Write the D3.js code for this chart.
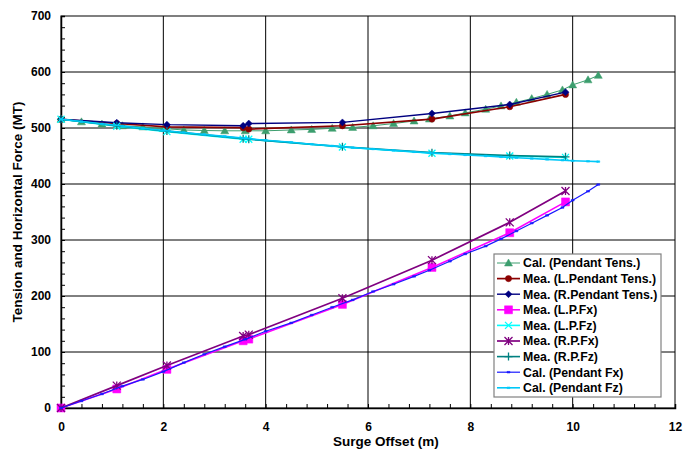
<!DOCTYPE html>
<html>
<head>
<meta charset="utf-8">
<script src="https://cdn.jsdelivr.net/npm/d3@7"></script>
<style>
  html, body { margin: 0; padding: 0; background: #fff; }
  svg text { font-family: "Liberation Sans", Arial, sans-serif; font-weight: bold; }
</style>
</head>
<body>
<svg id="chart" width="686" height="456"></svg>
<script>
// ---------------- data ----------------
const calX = [0, 0.4, 0.8, 1.2, 1.6, 2.0, 2.4, 2.8, 3.2, 3.6, 4.0, 4.5, 4.9, 5.3, 5.7, 6.1, 6.5, 6.9, 7.2, 7.6, 7.9, 8.3, 8.6, 8.9, 9.2, 9.5, 9.8, 10.0, 10.3, 10.5];
const calTens = [515.5, 511, 507, 504, 502, 499, 496.5, 495.5, 495, 495, 495, 496.5, 497.5, 499.5, 501, 504, 508, 512.5, 516, 521.5, 527, 533.5, 539.5, 546, 552.5, 560, 568, 577, 586, 594];
const calFx = [0, 12.5, 25, 39, 51, 65, 81, 96, 109.5, 122.6, 137, 152, 166, 180, 193, 208, 221, 235, 246, 262, 275, 289, 302, 316, 330, 344, 358, 371, 387, 399];
const calFz = [515.5, 511.5, 507.5, 503.5, 499.5, 495.5, 492, 488.5, 485, 481.5, 478, 474.5, 471, 468, 465, 462.5, 460, 457.5, 455.5, 453.5, 452, 450, 448.5, 447, 445.5, 444, 442.5, 441.5, 440.5, 440];

const meaX = [0, 1.09, 2.07, 3.56, 3.67, 5.5, 7.25, 8.77, 9.86];
const meaLTens = [515.5, 508, 502, 500.5, 498, 504, 516, 538, 560];
const meaRTens = [515.5, 509.5, 506, 504, 508, 510, 526, 542, 564];
const meaLFx = [0, 34, 69, 120, 123, 185, 251, 313, 368];
const meaLFz = [515.5, 503, 493.5, 480, 480, 466, 455, 450, 447.5];
const meaRFx = [0, 40, 76, 128.5, 131, 196, 264, 331.5, 387.5];
const meaRFz = [515.5, 504, 494.5, 481, 480, 466.5, 456, 451, 448.5];

const xTicks = [0, 2, 4, 6, 8, 10, 12];
const yTicks = [0, 100, 200, 300, 400, 500, 600, 700];

const seriesNames = ["Cal. (Pendant Tens.)", "Mea. (L.Pendant Tens.)", "Mea. (R.Pendant Tens.)", "Mea. (L.P.Fx)", "Mea. (L.P.Fz)", "Mea. (R.P.Fx)", "Mea. (R.P.Fz)", "Cal. (Pendant Fx)", "Cal. (Pendant Fz)"];
const seriesColors = ["#3c9e6e", "#8b0000", "#000080", "#ff00ff", "#00ffff", "#800080", "#008080", "#1a1aff", "#00c8f8"];
const seriesMarkers = ["triangle", "circle", "diamond", "square", "x", "star", "plus", "dash", "dash"];

const seriesData = [
  [calX, calTens], [meaX, meaLTens], [meaX, meaRTens], [meaX, meaLFx], [meaX, meaLFz],
  [meaX, meaRFx], [meaX, meaRFz], [calX, calFx], [calX, calFz]
];
const seriesWidth = [1, 1.7, 1.4, 1.6, 1.6, 1.7, 1.6, 1.2, 1.6];

// ---------------- layout ----------------
const L = 61, R = 675, T = 16, B = 408;
const svg = d3.select("#chart");
const x = d3.scaleLinear().domain([0, 12]).range([L, R]);
const y = d3.scaleLinear().domain([0, 700]).range([B, T]);

// gridlines
const grid = svg.append("g");
grid.selectAll("line.h").data(yTicks.slice(1, -1)).enter().append("line")
  .attr("x1", L).attr("x2", R).attr("y1", d => y(d)).attr("y2", d => y(d))
  .attr("stroke", "#000").attr("stroke-width", 1);
grid.selectAll("line.v").data(xTicks.slice(1, -1)).enter().append("line")
  .attr("y1", T).attr("y2", B).attr("x1", d => x(d)).attr("x2", d => x(d))
  .attr("stroke", "#000").attr("stroke-width", 1);

// plot border
svg.append("rect").attr("x", L).attr("y", T).attr("width", R - L).attr("height", B - T)
  .attr("fill", "none").attr("stroke", "#000").attr("stroke-width", 1);

// axes with inward minor ticks
const xAxis = d3.axisBottom(x).tickValues(d3.range(0, 12.001, 0.4)).tickSize(-4).tickFormat("");
svg.append("g").attr("transform", `translate(0,${B})`).call(xAxis)
  .call(g => g.select(".domain").attr("stroke-width", 1.5))
  .call(g => g.selectAll(".tick line").attr("stroke", "#000"));
const xLab = d3.axisBottom(x).tickValues(xTicks).tickSize(0).tickPadding(14).tickFormat(d3.format("d"));
svg.append("g").attr("transform", `translate(0,${B})`).call(xLab)
  .call(g => g.select(".domain").remove())
  .call(g => g.selectAll("text").attr("font-size", 12).attr("fill", "#000"));

const yAxis = d3.axisLeft(y).tickValues(d3.range(0, 701, 20)).tickSize(-4).tickFormat("");
svg.append("g").attr("transform", `translate(${L},0)`).call(yAxis)
  .call(g => g.select(".domain").attr("stroke-width", 1.5))
  .call(g => g.selectAll(".tick line").attr("stroke", "#000"));
const yLab = d3.axisLeft(y).tickValues(yTicks).tickSize(0).tickPadding(10).tickFormat(d3.format("d"));
svg.append("g").attr("transform", `translate(${L},0)`).call(yLab)
  .call(g => g.select(".domain").remove())
  .call(g => g.selectAll("text").attr("font-size", 12).attr("fill", "#000"));

// axis titles
svg.append("text").attr("x", 386).attr("y", 446).attr("text-anchor", "middle")
  .attr("font-size", 13.5).text("Surge Offset (m)");
svg.append("text").attr("transform", `translate(22,212) rotate(-90)`).attr("text-anchor", "middle")
  .attr("font-size", 13.5).text("Tension and Horizontal Force (MT)");

// markers
function markerPath(type, s) {
  const h = s / 2;
  switch (type) {
    case "triangle": return `M0,${-h}L${h},${h * 0.75}L${-h},${h * 0.75}Z`;
    case "circle": return d3.symbol(d3.symbolCircle, Math.PI * h * h * 0.8)();
    case "diamond": return `M0,${-h}L${h},0L0,${h}L${-h},0Z`;
    case "square": return `M${-h},${-h}H${h}V${h}H${-h}Z`;
    case "x": return `M${-h},${-h}L${h},${h}M${h},${-h}L${-h},${h}`;
    case "star": return `M${-h},${-h}L${h},${h}M${h},${-h}L${-h},${h}M0,${-h}V${h}`;
    case "plus": return `M${-h},0H${h}M0,${-h}V${h}`;
    case "dash": return `M${-h * 0.6},-0.8H${h * 0.6}V0.8H${-h * 0.6}Z`;
  }
}
const filled = { triangle: true, circle: true, diamond: true, square: true, dash: true };
const markerSize = { triangle: 8, circle: 7, diamond: 7, square: 8, x: 7, star: 8, plus: 8, dash: 5 };

const line = d3.line().x(d => x(d[0])).y(d => y(d[1]));
const plot = svg.append("g");
seriesData.forEach((sd, i) => {
  const pts = sd[0].map((xv, k) => [xv, sd[1][k]]);
  const g = plot.append("g");
  g.append("path").datum(pts).attr("d", line).attr("fill", "none")
    .attr("stroke", seriesColors[i]).attr("stroke-width", seriesWidth[i]);
  const m = seriesMarkers[i];
  g.selectAll("path.m").data(pts).enter().append("path")
    .attr("transform", d => `translate(${x(d[0])},${y(d[1])})`)
    .attr("d", markerPath(m, markerSize[m]))
    .attr("fill", filled[m] ? seriesColors[i] : "none")
    .attr("stroke", seriesColors[i]).attr("stroke-width", filled[m] ? 0.5 : 1.3);
});

// legend
const lg = svg.append("g").attr("transform", "translate(494,254)");
lg.append("rect").attr("x", 0).attr("y", 0).attr("width", 167).attr("height", 143)
  .attr("fill", "#fff").attr("stroke", "#808080").attr("stroke-width", 1.2);
seriesNames.forEach((name, i) => {
  const cy = 9 + i * 15.6;
  const m = seriesMarkers[i];
  lg.append("line").attr("x1", 3).attr("x2", 26).attr("y1", cy).attr("y2", cy)
    .attr("stroke", seriesColors[i]).attr("stroke-width", seriesWidth[i]);
  lg.append("path").attr("transform", `translate(14.5,${cy})`)
    .attr("d", markerPath(m, markerSize[m]))
    .attr("fill", filled[m] ? seriesColors[i] : "none")
    .attr("stroke", seriesColors[i]).attr("stroke-width", filled[m] ? 0.5 : 1.3);
  lg.append("text").attr("x", 29).attr("y", cy + 4.4).attr("font-size", 12.3).text(name);
});
</script>
</body>
</html>
